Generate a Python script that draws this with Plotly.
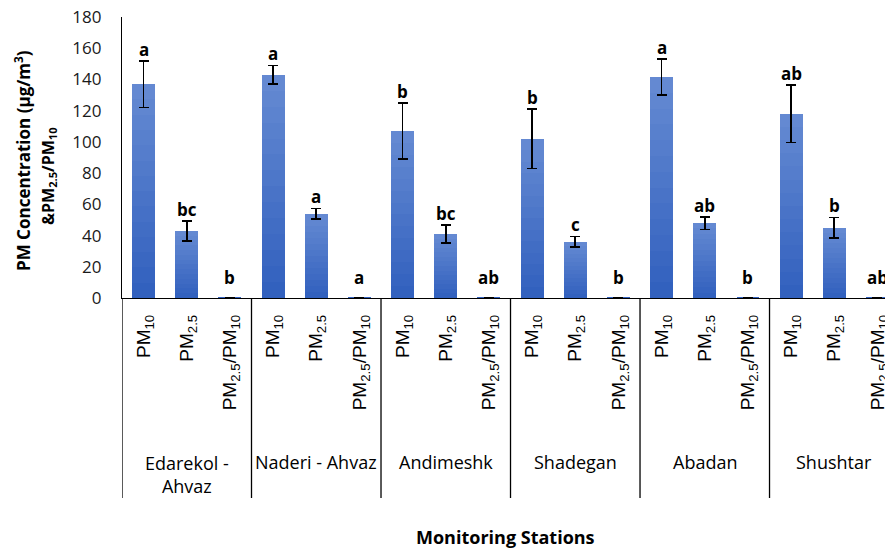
import plotly.graph_objects as go

# Stations and measured quantities
stations = ["Edarekol -<br>Ahvaz", "Naderi - Ahvaz", "Andimeshk", "Shadegan", "Abadan", "Shushtar"]
measures = ["PM<sub>10</sub>", "PM<sub>2.5</sub>", "PM<sub>2.5</sub>/PM<sub>10</sub>"]

# Mean values per station (PM10, PM2.5 in µg/m³; ratio dimensionless)
pm10 = [137, 143, 107, 102, 141.5, 118]
pm25 = [43, 54, 41, 36, 48, 45]
ratio = [0.31, 0.38, 0.38, 0.35, 0.34, 0.38]

# Error bar half-widths
pm10_err = [15, 6, 18, 19, 11.5, 18.5]
pm25_err = [6.5, 3.4, 5.7, 3.4, 4, 6.6]
ratio_err = [0.05, 0.05, 0.05, 0.05, 0.05, 0.05]

# Significance letters
pm10_sig = ["a", "a", "b", "b", "a", "ab"]
pm25_sig = ["bc", "a", "bc", "c", "ab", "b"]
ratio_sig = ["b", "a", "ab", "b", "b", "ab"]

# Plot-area geometry (pixels) used to place paper-referenced text
L, T, W, H = 122, 17, 763, 281


def px(xp):
    return (xp - L) / W


def py(yp):
    return (T + H - yp) / H


xs, vals, errs, sigs, ticks = [], [], [], [], []
for g in range(len(stations)):
    for j, (v, e, s) in enumerate([(pm10[g], pm10_err[g], pm10_sig[g]),
                                   (pm25[g], pm25_err[g], pm25_sig[g]),
                                   (ratio[g], ratio_err[g], ratio_sig[g])]):
        xs.append(g * 3 + j)
        vals.append(v)
        errs.append(e)
        sigs.append(s)
        ticks.append(measures[j])

fig = go.Figure()

# Vertical gradient fill: overlaid bars at decreasing fractions of each height
top_rgb = (100, 137, 210)
bot_rgb = (50, 97, 190)
n_layers = 14
for k in range(n_layers):
    f = 1 - k / n_layers
    t = k / (n_layers - 1)
    c = tuple(int(round(top_rgb[i] + (bot_rgb[i] - top_rgb[i]) * t)) for i in range(3))
    fig.add_trace(go.Bar(
        x=xs, y=[v * f for v in vals], width=0.53,
        marker=dict(color="rgb(%d,%d,%d)" % c, line=dict(width=0)),
        hoverinfo="skip", showlegend=False,
    ))

# Error bars on the full-height values
fig.add_trace(go.Bar(
    x=xs, y=vals, width=0.53,
    marker=dict(color="rgba(0,0,0,0)", line=dict(width=0)),
    error_y=dict(type="data", array=errs, visible=True, color="black",
                 thickness=1.6, width=5),
    showlegend=False,
))

# Significance letters above each bar
for x, v, e, s in zip(xs, vals, errs, sigs):
    fig.add_annotation(
        x=x, y=v + e, xref="x", yref="y", text="<b>%s</b>" % s,
        showarrow=False, yanchor="bottom", yshift=(6 if v < 5 else -2),
        font=dict(family="Open Sans", size=17, color="black"),
    )

# Group separators and station names under the axis
seps = [g * 3 - 0.5 for g in range(len(stations) + 1)]
for xsep in seps:
    fig.add_shape(type="line", xref="x", yref="paper", x0=xsep, x1=xsep,
                  y0=0, y1=py(498), line=dict(color="black", width=1.3))
for g, name in enumerate(stations):
    fig.add_annotation(
        x=g * 3 + 1, y=py(474) if "<br>" in name else py(462),
        xref="x", yref="paper", text=name, showarrow=False,
        font=dict(family="Open Sans", size=18, color="black"),
        yanchor="middle", xanchor="center",
    )

# Axis titles
fig.add_annotation(
    x=px(22), y=py(161), xref="paper", yref="paper", textangle=-90,
    text="<b>PM Concentration (µg/m<sup>3</sup>)</b>",
    showarrow=False, xanchor="center", yanchor="middle",
    font=dict(family="Open Sans", size=17, color="black"),
)
fig.add_annotation(
    x=px(48), y=py(176), xref="paper", yref="paper", textangle=-90,
    text="<b>&PM<sub>2.5</sub>/PM<sub>10</sub></b>",
    showarrow=False, xanchor="center", yanchor="middle",
    font=dict(family="Open Sans", size=16, color="black"),
)
fig.add_annotation(
    x=px(505), y=py(537), xref="paper", yref="paper",
    text="<b>Monitoring Stations</b>", showarrow=False,
    xanchor="center", yanchor="middle",
    font=dict(family="Open Sans", size=18, color="black"),
)

fig.update_layout(
    width=885, height=548,
    margin=dict(l=L, r=0, t=T, b=548 - T - H),
    paper_bgcolor="white", plot_bgcolor="white",
    barmode="overlay", bargap=0,
    showlegend=False,
    xaxis=dict(
        range=[-0.5, 17.175], tickmode="array", tickvals=xs, ticktext=ticks,
        tickangle=-90, showgrid=False, zeroline=False, automargin=False,
        showline=True, linecolor="black", linewidth=1.3,
        ticks="", ticklabelstandoff=8, ticklabeloverflow="allow",
        tickfont=dict(family="Arial", size=19, color="black"),
    ),
    yaxis=dict(
        range=[0, 180], tickvals=list(range(0, 181, 20)), showgrid=False,
        zeroline=False, showline=True, linecolor="black", linewidth=1.3,
        ticks="", ticklabelstandoff=16, automargin=False,
        tickfont=dict(family="Open Sans", size=17, color="#1a1a1a"),
    ),
)

fig.write_html("out.html")
